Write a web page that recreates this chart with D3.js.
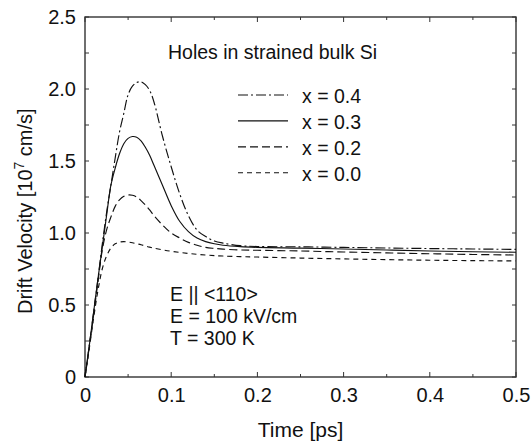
<!DOCTYPE html>
<html>
<head>
<meta charset="utf-8">
<script src="https://cdn.jsdelivr.net/npm/d3@7"></script>
<style>
  html, body { margin: 0; padding: 0; background: #fff; }
  svg { display: block; }
  text { font-family: "Liberation Sans", Arial, Helvetica, sans-serif; fill: #111; }
</style>
</head>
<body>
<svg id="chart" width="532" height="443"></svg>
<script>
// ---- data ----
const times = [0, 0.005, 0.01, 0.015, 0.02, 0.025, 0.03, 0.035, 0.04, 0.045, 0.05, 0.055, 0.06, 0.065, 0.07, 0.075, 0.08, 0.09, 0.10, 0.11, 0.12, 0.13, 0.14, 0.15, 0.16, 0.18, 0.20, 0.25, 0.30, 0.35, 0.40, 0.45, 0.50];
const v_x04 = [0, 0.22, 0.45, 0.68, 0.92, 1.14, 1.33, 1.52, 1.70, 1.83, 1.96, 2.02, 2.045, 2.05, 2.03, 1.99, 1.91, 1.67, 1.46, 1.27, 1.12, 1.02, 0.975, 0.945, 0.93, 0.912, 0.906, 0.904, 0.90, 0.896, 0.892, 0.889, 0.886];
const v_x03 = [0, 0.22, 0.45, 0.68, 0.90, 1.12, 1.33, 1.45, 1.55, 1.62, 1.657, 1.67, 1.665, 1.64, 1.595, 1.54, 1.47, 1.33, 1.19, 1.08, 1.01, 0.965, 0.94, 0.925, 0.915, 0.905, 0.90, 0.895, 0.889, 0.882, 0.875, 0.87, 0.866];
const v_x02 = [0, 0.21, 0.43, 0.66, 0.88, 1.02, 1.11, 1.185, 1.23, 1.255, 1.264, 1.262, 1.25, 1.225, 1.195, 1.16, 1.12, 1.055, 1.0, 0.965, 0.935, 0.915, 0.90, 0.893, 0.888, 0.882, 0.88, 0.875, 0.868, 0.862, 0.856, 0.851, 0.847];
const v_x00 = [0, 0.20, 0.41, 0.60, 0.75, 0.84, 0.895, 0.925, 0.937, 0.94, 0.937, 0.932, 0.925, 0.918, 0.91, 0.902, 0.895, 0.883, 0.873, 0.865, 0.858, 0.852, 0.847, 0.843, 0.84, 0.836, 0.833, 0.826, 0.82, 0.815, 0.811, 0.808, 0.806];
const seriesNames = ["x = 0.4", "x = 0.3", "x = 0.2", "x = 0.0"];
const seriesValues = [v_x04, v_x03, v_x02, v_x00];
const seriesDash = ["10,3,2,3", null, "8,4", "5,4"];
const xTicks = [0, 0.1, 0.2, 0.3, 0.4, 0.5];
const xTickLabels = ["0", "0.1", "0.2", "0.3", "0.4", "0.5"];
const yTicks = [0, 0.5, 1.0, 1.5, 2.0, 2.5];
const yTickLabels = ["0", "0.5", "1.0", "1.5", "2.0", "2.5"];
const titleText = "Holes in strained bulk Si";
const noteLines = ["E || <110>", "E = 100 kV/cm", "T = 300 K"];

// ---- layout ----
const svg = d3.select("#chart");
const L = 85, R = 516, T = 17, B = 377;
const x = d3.scaleLinear().domain([0, 0.5]).range([L, R]);
const y = d3.scaleLinear().domain([0, 2.5]).range([B, T]);
const axisColor = "#333";

const g = svg.append("g");

// ticks (inward) on all four sides
const xMinor = d3.range(0, 0.5001, 0.05);
const yMinor = d3.range(0, 2.5001, 0.25);
function isMajor(v, step) { return Math.abs(v / step - Math.round(v / step)) < 1e-6; }
xMinor.forEach(v => {
  const len = isMajor(v, 0.1) ? 5 : 3;
  g.append("line").attr("x1", x(v)).attr("x2", x(v)).attr("y1", B).attr("y2", B - len).attr("stroke", axisColor).attr("stroke-width", 1);
  g.append("line").attr("x1", x(v)).attr("x2", x(v)).attr("y1", T).attr("y2", T + len).attr("stroke", axisColor).attr("stroke-width", 1);
});
yMinor.forEach(v => {
  const len = 4;
  g.append("line").attr("x1", L).attr("x2", L + len).attr("y1", y(v)).attr("y2", y(v)).attr("stroke", axisColor).attr("stroke-width", 1);
  g.append("line").attr("x1", R).attr("x2", R - len).attr("y1", y(v)).attr("y2", y(v)).attr("stroke", axisColor).attr("stroke-width", 1);
});

// frame
g.append("rect").attr("x", L).attr("y", T).attr("width", R - L).attr("height", B - T)
  .attr("fill", "none").attr("stroke", axisColor).attr("stroke-width", 1.4);

// tick labels via d3 axes
const xAxis = d3.axisBottom(x).tickValues(xTicks).tickFormat((d, i) => xTickLabels[i]).tickSize(0).tickPadding(11);
const xg = svg.append("g").attr("transform", `translate(0,${B})`).call(xAxis);
xg.select(".domain").remove();
xg.selectAll("text").attr("font-size", 20).attr("font-family", "Liberation Sans, Arial, sans-serif").attr("fill", "#111");

const yAxis = d3.axisLeft(y).tickValues(yTicks).tickFormat((d, i) => yTickLabels[i]).tickSize(0).tickPadding(9);
const yg = svg.append("g").attr("transform", `translate(${L},0)`).call(yAxis);
yg.select(".domain").remove();
yg.selectAll("text").attr("font-size", 20).attr("font-family", "Liberation Sans, Arial, sans-serif").attr("fill", "#111");

// axis titles
svg.append("text").attr("x", (L + R) / 2).attr("y", 436.5).attr("text-anchor", "middle").attr("font-size", 21).text("Time [ps]");
const yt = svg.append("text").attr("transform", `translate(32,314) rotate(-90)`).attr("text-anchor", "start").attr("font-size", 20);
yt.append("tspan").text("Drift Velocity [10");
yt.append("tspan").attr("dy", -8).attr("font-size", 14).text("7");
yt.append("tspan").attr("dy", 8).text(" cm/s]");

// curves
const line = d3.line().x((d, i) => x(times[i])).y(d => y(d)).curve(d3.curveCatmullRom.alpha(0.5));
seriesValues.forEach((vals, k) => {
  svg.append("path").datum(vals).attr("d", line)
    .attr("fill", "none").attr("stroke", "#111").attr("stroke-width", 1.15)
    .attr("stroke-dasharray", seriesDash[k]);
});

// legend
svg.append("text").attr("x", 168).attr("y", 59).attr("font-size", 19.5).text(titleText);
const legY0 = 95, legDY = 25.9;
seriesNames.forEach((name, k) => {
  const yy = legY0 + k * legDY;
  svg.append("line").attr("x1", 238).attr("x2", 288).attr("y1", yy).attr("y2", yy)
    .attr("stroke", "#111").attr("stroke-width", 1.15).attr("stroke-dasharray", seriesDash[k]);
  svg.append("text").attr("x", 302).attr("y", yy + 8).attr("font-size", 19.5).text(name);
});

// notes
noteLines.forEach((s, i) => {
  svg.append("text").attr("x", 170).attr("y", 300.5 + i * 22.2).attr("font-size", 19.5).text(s);
});
</script>
</body>
</html>
